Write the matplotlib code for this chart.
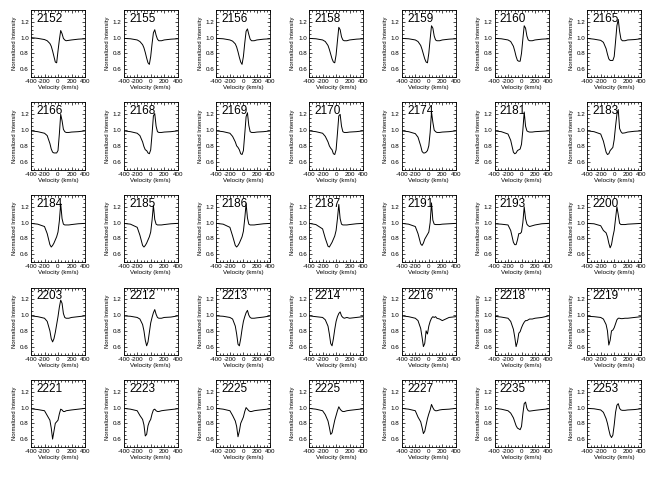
import numpy as np
import matplotlib
matplotlib.use("Agg")
import matplotlib.pyplot as plt
from matplotlib.ticker import MultipleLocator

plt.rcParams['font.family'] = ['Liberation Sans', 'DejaVu Sans']
plt.rcParams['axes.unicode_minus'] = False

# velocity grid (km/s) shared by all profiles
vel = [-400, -300, -200, -160, -120, -100, -80, -60, -40, -20, 0,
       20, 40, 60, 80, 100, 120, 160, 200, 300, 400]

labels = ['2152', '2155', '2156', '2158', '2159', '2160', '2165',
          '2166', '2168', '2169', '2170', '2174', '2181', '2183',
          '2184', '2185', '2186', '2187', '2191', '2193', '2200',
          '2203', '2212', '2213', '2214', '2216', '2218', '2219',
          '2221', '2223', '2225', '2225', '2227', '2235', '2253']

# row 1
p2152 = [1.00, 0.99, 0.975, 0.96, 0.925, 0.89, 0.83, 0.76, 0.69, 0.68, 0.83, 0.97, 1.09, 1.05, 0.99, 0.97, 0.96, 0.965, 0.97, 0.98, 0.985]
p2155 = [0.99, 0.985, 0.97, 0.95, 0.91, 0.87, 0.81, 0.74, 0.68, 0.66, 0.76, 0.92, 1.06, 1.10, 1.03, 0.98, 0.96, 0.96, 0.97, 0.98, 0.985]
p2156 = [0.99, 0.985, 0.97, 0.955, 0.92, 0.88, 0.82, 0.75, 0.69, 0.66, 0.76, 0.93, 1.08, 1.11, 1.04, 0.98, 0.96, 0.96, 0.97, 0.98, 0.985]
p2158 = [0.99, 0.985, 0.97, 0.95, 0.90, 0.85, 0.79, 0.73, 0.69, 0.68, 0.78, 0.96, 1.13, 1.10, 1.01, 0.97, 0.96, 0.96, 0.97, 0.98, 0.985]
p2159 = [0.99, 0.985, 0.97, 0.95, 0.90, 0.85, 0.79, 0.73, 0.69, 0.68, 0.80, 0.98, 1.15, 1.12, 1.02, 0.97, 0.96, 0.96, 0.97, 0.98, 0.985]
p2160 = [0.99, 0.985, 0.97, 0.95, 0.89, 0.83, 0.76, 0.71, 0.70, 0.70, 0.80, 0.98, 1.15, 1.12, 1.02, 0.97, 0.96, 0.96, 0.97, 0.98, 0.985]
p2165 = [0.99, 0.98, 0.965, 0.94, 0.86, 0.79, 0.73, 0.71, 0.71, 0.71, 0.76, 0.95, 1.15, 1.23, 1.08, 0.98, 0.96, 0.96, 0.97, 0.975, 0.985]
# row 2
p2166 = [0.99, 0.98, 0.96, 0.93, 0.83, 0.76, 0.72, 0.71, 0.71, 0.71, 0.74, 0.95, 1.20, 1.12, 1.01, 0.98, 0.97, 0.97, 0.975, 0.98, 0.99]
p2168 = [0.99, 0.98, 0.96, 0.93, 0.85, 0.79, 0.75, 0.74, 0.71, 0.70, 0.75, 0.95, 1.18, 1.21, 1.05, 0.98, 0.97, 0.97, 0.975, 0.98, 0.99]
p2169 = [0.99, 0.98, 0.96, 0.92, 0.85, 0.80, 0.78, 0.75, 0.70, 0.69, 0.74, 0.95, 1.17, 1.22, 1.06, 0.98, 0.97, 0.97, 0.975, 0.98, 0.99]
p2170 = [0.99, 0.98, 0.96, 0.92, 0.85, 0.80, 0.77, 0.75, 0.70, 0.69, 0.75, 0.96, 1.18, 1.20, 1.05, 0.98, 0.97, 0.97, 0.975, 0.98, 0.99]
p2174 = [0.99, 0.98, 0.955, 0.91, 0.80, 0.73, 0.71, 0.71, 0.72, 0.74, 0.80, 0.97, 1.23, 1.10, 1.00, 0.98, 0.97, 0.97, 0.975, 0.98, 0.99]
p2181 = [0.99, 0.98, 0.95, 0.87, 0.72, 0.70, 0.71, 0.74, 0.75, 0.76, 0.82, 1.00, 1.23, 1.05, 0.99, 0.98, 0.975, 0.975, 0.98, 0.985, 0.99]
p2183 = [0.99, 0.98, 0.95, 0.86, 0.72, 0.69, 0.70, 0.74, 0.76, 0.78, 0.88, 1.05, 1.20, 1.26, 1.02, 0.98, 0.96, 0.965, 0.975, 0.985, 0.99]
# row 3
p2184 = [0.99, 0.98, 0.95, 0.86, 0.72, 0.69, 0.71, 0.74, 0.78, 0.82, 0.88, 1.02, 1.24, 1.05, 0.98, 0.97, 0.97, 0.97, 0.975, 0.985, 0.99]
p2185 = [0.99, 0.98, 0.94, 0.84, 0.71, 0.69, 0.71, 0.74, 0.78, 0.82, 0.88, 1.03, 1.22, 1.04, 0.98, 0.97, 0.97, 0.97, 0.975, 0.985, 0.99]
p2186 = [0.99, 0.98, 0.94, 0.83, 0.71, 0.69, 0.71, 0.74, 0.78, 0.82, 0.89, 1.05, 1.24, 1.06, 0.98, 0.97, 0.97, 0.97, 0.975, 0.985, 0.99]
p2187 = [0.99, 0.975, 0.92, 0.80, 0.70, 0.69, 0.72, 0.75, 0.79, 0.83, 0.90, 1.05, 1.23, 1.05, 0.98, 0.97, 0.97, 0.97, 0.975, 0.985, 0.99]
p2191 = [0.99, 0.98, 0.95, 0.86, 0.73, 0.71, 0.74, 0.79, 0.82, 0.85, 0.88, 1.00, 1.25, 1.03, 0.98, 0.975, 0.975, 0.975, 0.98, 0.985, 0.99]
p2193 = [0.985, 0.98, 0.97, 0.90, 0.75, 0.72, 0.72, 0.78, 0.86, 0.86, 0.88, 1.00, 1.20, 1.05, 0.98, 0.96, 0.95, 0.96, 0.97, 0.985, 0.99]
p2200 = [0.99, 0.985, 0.96, 0.90, 0.87, 0.82, 0.74, 0.68, 0.72, 0.82, 0.90, 1.05, 1.20, 1.10, 0.99, 0.975, 0.975, 0.975, 0.98, 0.985, 0.99]
# row 4
p2203 = [0.99, 0.98, 0.96, 0.92, 0.80, 0.70, 0.66, 0.70, 0.78, 0.88, 0.98, 1.10, 1.19, 1.15, 1.02, 0.97, 0.96, 0.96, 0.97, 0.98, 0.99]
p2212 = [0.99, 0.985, 0.97, 0.95, 0.88, 0.80, 0.68, 0.61, 0.66, 0.78, 0.90, 0.97, 1.03, 1.07, 1.01, 0.97, 0.96, 0.96, 0.97, 0.975, 0.99]
p2213 = [0.99, 0.985, 0.97, 0.95, 0.86, 0.76, 0.63, 0.61, 0.70, 0.82, 0.92, 0.98, 1.03, 1.06, 1.00, 0.97, 0.96, 0.96, 0.965, 0.975, 0.99]
p2214 = [0.99, 0.98, 0.97, 0.94, 0.86, 0.76, 0.64, 0.61, 0.70, 0.82, 0.92, 0.98, 1.02, 1.04, 0.99, 0.97, 0.96, 0.97, 0.96, 0.97, 0.98]
p2216 = [0.99, 0.98, 0.96, 0.93, 0.83, 0.72, 0.60, 0.64, 0.80, 0.76, 0.86, 0.92, 0.96, 0.98, 0.97, 0.98, 0.96, 0.95, 0.93, 0.97, 0.98]
p2218 = [0.985, 0.975, 0.96, 0.92, 0.82, 0.72, 0.60, 0.66, 0.77, 0.79, 0.84, 0.88, 0.91, 0.93, 0.93, 0.94, 0.95, 0.95, 0.96, 0.97, 0.99]
p2219 = [0.985, 0.98, 0.97, 0.95, 0.88, 0.80, 0.62, 0.68, 0.80, 0.81, 0.84, 0.89, 0.94, 0.96, 0.96, 0.955, 0.955, 0.96, 0.96, 0.97, 0.98]
# row 5
p2221 = [0.985, 0.975, 0.96, 0.90, 0.84, 0.74, 0.60, 0.70, 0.80, 0.82, 0.84, 0.92, 0.98, 0.97, 0.95, 0.95, 0.96, 0.965, 0.97, 0.98, 0.99]
p2223 = [0.99, 0.98, 0.96, 0.90, 0.85, 0.78, 0.64, 0.66, 0.77, 0.82, 0.85, 0.92, 0.97, 0.98, 0.96, 0.95, 0.95, 0.96, 0.965, 0.975, 0.985]
p2225a = [0.99, 0.98, 0.96, 0.90, 0.83, 0.76, 0.63, 0.70, 0.80, 0.84, 0.88, 0.95, 1.00, 0.98, 0.96, 0.95, 0.95, 0.96, 0.965, 0.975, 0.985]
p2225b = [0.99, 0.98, 0.96, 0.91, 0.83, 0.75, 0.66, 0.68, 0.76, 0.84, 0.90, 0.96, 1.01, 0.98, 0.96, 0.95, 0.95, 0.96, 0.965, 0.975, 0.985]
p2227 = [0.99, 0.98, 0.96, 0.88, 0.82, 0.75, 0.67, 0.70, 0.78, 0.86, 0.92, 0.97, 1.04, 1.00, 0.97, 0.96, 0.96, 0.97, 0.975, 0.98, 0.99]
p2235 = [0.99, 0.98, 0.96, 0.93, 0.87, 0.82, 0.77, 0.74, 0.73, 0.72, 0.76, 0.92, 1.05, 1.07, 0.99, 0.96, 0.955, 0.96, 0.965, 0.975, 0.985]
p2253 = [0.99, 0.985, 0.97, 0.94, 0.86, 0.80, 0.72, 0.65, 0.62, 0.65, 0.78, 0.94, 1.03, 1.05, 0.99, 0.97, 0.965, 0.965, 0.97, 0.975, 0.985]

profiles = [p2152, p2155, p2156, p2158, p2159, p2160, p2165,
            p2166, p2168, p2169, p2170, p2174, p2181, p2183,
            p2184, p2185, p2186, p2187, p2191, p2193, p2200,
            p2203, p2212, p2213, p2214, p2216, p2218, p2219,
            p2221, p2223, p2225a, p2225b, p2227, p2235, p2253]

W, H = 648, 478
fig = plt.figure(figsize=(W/100, H/100), dpi=100)

for k in range(35):
    r, c = divmod(k, 7)
    x0 = 31 + 92.7*c
    y1 = 77 + 92.5*r
    ax = fig.add_axes([x0/W, 1 - y1/H, 54/W, 67/H])
    ax.plot(vel, profiles[k], color='k', lw=0.7)
    ax.set_xlim(-400, 400)
    ax.set_ylim(0.5, 1.35)
    ax.xaxis.set_major_locator(MultipleLocator(200))
    ax.xaxis.set_minor_locator(MultipleLocator(50))
    ax.yaxis.set_minor_locator(MultipleLocator(0.05))
    ax.set_yticks([0.6, 0.8, 1.0, 1.2])
    ax.set_yticklabels(['0.6', '0.8', '1.0', '1.2'])
    ax.tick_params(which='both', direction='in', top=True, right=True,
                   labelsize=4.5, width=0.5, pad=1.5)
    ax.tick_params(which='major', length=2.5)
    ax.tick_params(which='minor', length=1.2)
    for s in ax.spines.values():
        s.set_linewidth(0.6)
    ax.set_xlabel('Velocity (km/s)', fontsize=4.5, labelpad=1)
    ax.set_ylabel('Normalized Intensity', fontsize=4.2, labelpad=2)
    ax.text(0.1, 0.87, labels[k], transform=ax.transAxes, fontsize=8.5,
            va='center', ha='left')

fig.savefig('out.png', dpi=100)
